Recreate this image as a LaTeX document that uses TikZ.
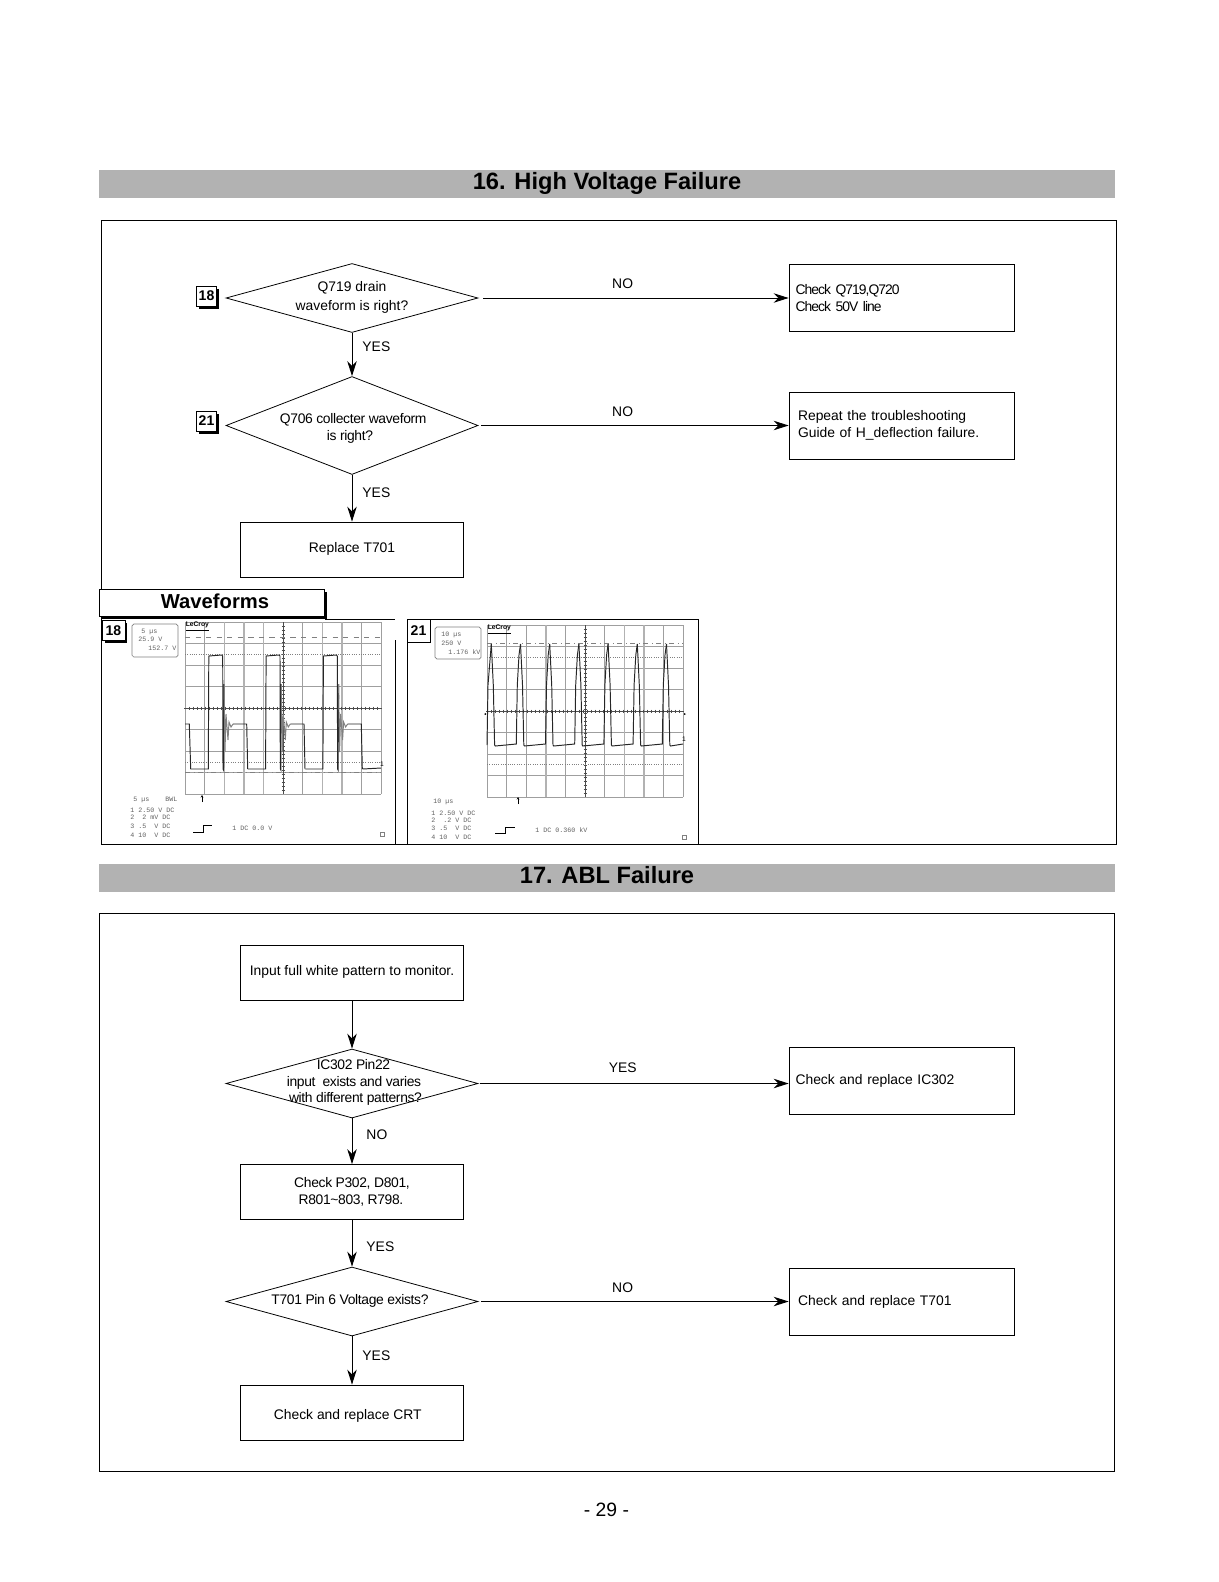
\documentclass[tikz,border=0pt]{standalone}
\usepackage{fontspec}
\setmainfont{Liberation Sans}
\setmonofont{Liberation Mono}
\usetikzlibrary{arrows.meta, positioning, shapes.geometric, shadows}

\newcommand{\dtext}[2][0cm]{\smash{\raisebox{#1}{\makebox[0pt]{\addfontfeature{LetterSpace=-2.5}\begin{tabular}{@{}c@{}}#2\end{tabular}}}}}
\newcommand{\btext}[2][0cm]{\smash{\raisebox{#1}{\makebox[0pt]{#2}}}}

\tikzset{
	decision/.style={diamond, draw, line width=0.45pt, inner sep=0pt, minimum width=5.04cm, minimum height=1.38cm},
	actbox/.style={rectangle, draw, line width=0.45pt, inner sep=0pt, minimum width=4.46cm, minimum height=1.1cm, align=center},
	checkbox/.style={rectangle, draw, line width=0.45pt, inner ysep=0pt, inner xsep=0.13cm, minimum height=1.34cm, text width=4.24cm, align=left},
	titlebar/.style={rectangle, fill=gray!60, inner sep=0pt, minimum width=20.32cm, minimum height=0.56cm, font=\fontsize{13.45}{16}\selectfont\bfseries},
	tagbox/.style={rectangle, draw=black, fill=white, line width=0.5pt, inner sep=0pt, minimum width=0.4cm, minimum height=0.4cm, font=\fontsize{8}{9}\selectfont\bfseries, drop shadow={shadow xshift=0.05cm, shadow yshift=-0.05cm, fill=black, opacity=1}},
	answer/.style={inner sep=0pt},
	flow/.style={-{Stealth[length=0.3cm, width=0.19cm]}, line width=0.55pt},
	gridline/.style={gray!75, line width=0.35pt},
	wavetrace/.style={black!85, line width=0.55pt},
	scopetext/.style={inner sep=0pt, anchor=west, text=gray!75!black, font=\ttfamily\fontsize{3.8}{4}\selectfont},
}

\begin{document}
\begin{tikzpicture}[x=0.02cm, y=-0.02cm, font=\fontsize{7.9}{9.3}\selectfont]
	\useasboundingbox (0,0) rectangle (1219,1582);

	% Section 16
	\node[titlebar] (title_hv) at (607,184) {\btext[-0.1cm]{16. High Voltage Failure}};
	\draw[line width=0.45pt] (101,220) rectangle (1116,844.5);

	\node[decision] (d_drain) at (352,298) {\dtext[-0.06cm]{\addfontfeature{LetterSpace=0}Q719 drain\\[1.3pt]\addfontfeature{LetterSpace=0}waveform is right?}};
	\node[decision, minimum height=1.96cm] (d_coll) at (352,425.5) {\dtext[-0.13cm]{\hspace*{0.05cm}Q706 collecter waveform\\[0.5pt]\hspace*{-0.08cm}is right?}};
	\node[actbox] (b_t701) at (352,549.5) {\btext[-0.06cm]{Replace T701}};
	\node[checkbox] (b_q719) at (901.5,298) {\addfontfeature{LetterSpace=-7}Check Q719,Q720\\Check 50V line};
	\node[checkbox, inner xsep=0.18cm, text width=4.14cm] (b_hdef) at (901.5,425.5) {Repeat the troubleshooting\\Guide of H\_deflection failure.};
	\node[tagbox] (tag_a) at (206.5,296) {18};
	\node[tagbox] (tag_b) at (206.5,421) {21};

	\draw[flow] (d_drain) -- (d_coll) node[answer, midway, right=0.2cm, yshift=0.15cm] {YES};
	\draw[flow] (d_coll) -- (b_t701) node[answer, midway, right=0.2cm, yshift=0.12cm] {YES};
	\draw[flow, shorten <=0.1cm] (d_drain.east) -- (b_q719.west) node[answer, pos=0.465, above=0.17cm] {NO};
	\draw[flow, shorten <=0.06cm] (d_coll.east) -- (b_hdef.west) node[answer, pos=0.465, above=0.17cm] {NO};

	% Waveforms
	\draw[line width=0.45pt] (325,619) -- (395,619) (395,640) -- (395,844.5);
	\draw[line width=0.45pt] (407,642) -- (407,844.5) (430,619) -- (698,619) -- (698,844.5);
	\node[tagbox, minimum width=4.5cm, minimum height=0.54cm, font=\fontsize{11.5}{13}\selectfont\bfseries] (wave_head) at (212,602.5) {\btext[-0.11cm]{\hspace*{0.12cm}Waveforms}};

	% Oscillogram 18
	\begin{scope}[shift={(185,622)}]
		\foreach \c in {0,...,10} \draw[gridline] (\c*19.6,0) -- (\c*19.6,172);
		\foreach \r in {0,...,8} \draw[gridline] (0,\r*21.5) -- (196,\r*21.5);
		\foreach \c in {2,3,4,7,8} \draw[gray!60, line width=0.8pt] (\c*19.6,0) -- (\c*19.6,172);
		\draw[black!70, line width=0.5pt] (-1,86) -- (197,86) (98,0) -- (98,172);
		\foreach \t in {4,8,...,192} \draw[black!70, line width=0.3pt] (\t,84.5) -- (\t,87.5);
		\foreach \t in {4,8,...,168} \draw[black!70, line width=0.3pt] (96.5,\t) -- (99.5,\t);
		\draw[gray, dashed, line width=0.3pt] (0,15) -- (196,15);
		\draw[gray, densely dotted, line width=0.3pt] (0,32) -- (196,32) (0,140) -- (196,140);
		\draw[gray, dash dot, line width=0.3pt] (0,150) -- (196,150);
		\draw[wavetrace] (0,102) -- (4.3,102) -- (5.7,147);
		\foreach \k in {0,1,2} {
			\begin{scope}[shift={(57.3*\k,0)}]
				\draw[wavetrace] (5.7,147) -- (23.3,147) -- (23.8,34) -- (36.7,33) -- (37.7,34) -- (38,147) -- (38.5,148) -- (39,62);
				\draw[wavetrace, gray] (39,62) -- (40,130) -- (41,92) -- (43,118) -- (44,100) -- (46,105) -- (48,102);
				\draw[wavetrace] (48,102) -- (61.7,102) -- (62.7,147);
			\end{scope}
		}
		\draw[wavetrace] (177.6,147) -- (196,146);
		\node[inner sep=0pt, anchor=west, font=\fontsize{3.8}{4}\selectfont\bfseries] (lecroy_a) at (0.5,5) {\underline{LeCroy}};
		\node[inner sep=0pt, font=\fontsize{3.8}{4}\selectfont] (mark_a) at (197,142) {1};
	\end{scope}
	\draw[line width=0.4pt, gray, rounded corners=1pt] (132,624) rectangle (178,657);
	\node[scopetext] (ra_1) at (141,632) {5 µs};
	\node[scopetext] (ra_2) at (138,639) {25.9 V};
	\node[scopetext] (ra_3) at (148,648) {152.7 V};
	\node[scopetext] (la_0) at (133,800) {5 µs~~~~BWL};
	\node[scopetext] (la_1) at (130,810) {1 2.50 V DC};
	\node[scopetext] (la_2) at (130,817) {2 ~2 mV DC};
	\node[scopetext] (la_3) at (130,826) {3 .5 ~V DC};
	\node[scopetext] (la_4) at (130,835) {4 10 ~V DC};
	\node[scopetext] (la_5) at (232,828) {1 DC 0.0 V};
	\draw[line width=0.4pt] (193,832) -- (203,832) -- (203,825) -- (212,825);
	\draw[-{Stealth[length=0.05cm, width=0.05cm]}, line width=0.5pt] (202,802) -- (202,795);
	\draw[line width=0.3pt, gray] (380,832) rectangle (384,836);
	\node[tagbox, minimum width=0.46cm] (tag_c) at (113.5,630.5) {18};

	% Oscillogram 21
	\begin{scope}[shift={(487,625)}]
		\foreach \c in {0,...,10} \draw[gridline] (\c*19.6,0) -- (\c*19.6,172);
		\foreach \r in {0,...,8} \draw[gridline] (0,\r*21.5) -- (196,\r*21.5);
		\foreach \c in {3,7,8} \draw[gray!60, line width=0.8pt] (\c*19.6,0) -- (\c*19.6,172);
		\draw[black!70, line width=0.5pt] (-1,86) -- (197,86) (98,0) -- (98,172);
		\foreach \t in {4,8,...,192} \draw[black!70, line width=0.3pt] (\t,84.5) -- (\t,87.5);
		\foreach \t in {4,8,...,168} \draw[black!70, line width=0.3pt] (96.5,\t) -- (99.5,\t);
		\draw[gray, dash dot, line width=0.3pt] (0,18) -- (196,18);
		\draw[gray, densely dotted, line width=0.3pt] (0,32) -- (196,32) (0,139) -- (196,139);
		\draw[wavetrace] (0,120) -- (1,60) -- (4.3,19);
		\foreach \k in {0,...,5} {
			\begin{scope}[shift={(29.2*\k,0)}]
				\draw[wavetrace] (4.3,19) -- (6.3,60) -- (7.6,120) -- (8.3,121) -- (29.3,119) -- (30.3,60) -- (32,30) -- (33.5,19);
			\end{scope}
		}
		\draw[wavetrace] (179.5,19) -- (181.5,60) -- (182.8,120) -- (183.5,121) -- (196,119);
		\node[inner sep=0pt, anchor=west, font=\fontsize{3.8}{4}\selectfont\bfseries] (lecroy_b) at (0.5,5) {\underline{LeCroy}};
		\node[inner sep=0pt, font=\fontsize{3.8}{4}\selectfont] (mark_b) at (197,114) {1};
		\fill (-3,89) -- (-1,88) -- (-1,90) -- cycle;
		\fill (199,89) -- (197,88) -- (197,90) -- cycle;
	\end{scope}
	\draw[line width=0.4pt, gray, rounded corners=1pt] (435,627) rectangle (481,659);
	\node[scopetext] (rb_1) at (441,635) {10 µs};
	\node[scopetext] (rb_2) at (441,643) {250 V};
	\node[scopetext] (rb_3) at (448,652) {1.176 kV};
	\node[scopetext] (lb_0) at (433,802) {10 µs};
	\node[scopetext] (lb_1) at (431,813) {1 2.50 V DC};
	\node[scopetext] (lb_2) at (431,820) {2 ~.2 V DC};
	\node[scopetext] (lb_3) at (431,828) {3 .5 ~V DC};
	\node[scopetext] (lb_4) at (431,837) {4 10 ~V DC};
	\node[scopetext] (lb_5) at (535,830) {1 DC 0.360 kV};
	\draw[line width=0.4pt] (495,833) -- (505,833) -- (505,827) -- (515,827);
	\draw[-{Stealth[length=0.05cm, width=0.05cm]}, line width=0.5pt] (518,804) -- (518,797);
	\draw[line width=0.3pt, gray] (682,835) rectangle (686,839);
	\node[rectangle, draw, fill=white, line width=0.5pt, inner sep=0pt, minimum width=0.46cm, minimum height=0.46cm, font=\fontsize{8}{9}\selectfont\bfseries] (tag_d) at (418.5,630.5) {21};

	% Section 17
	\node[titlebar] (title_abl) at (607,878) {\btext[-0.1cm]{17. ABL Failure}};
	\draw[line width=0.45pt] (99,913) rectangle (1114.5,1471);

	\node[actbox] (b_input) at (352,972.5) {\btext[-0.05cm]{Input full white pattern to monitor.}};
	\node[decision] (d_ic) at (352,1083.5) {\dtext[-0.06cm]{\hspace*{0.06cm}IC302 Pin22\\\hspace*{0.08cm}input~ exists and varies\\\hspace*{0.14cm}with different patterns?}};
	\node[actbox] (b_p302) at (352,1192) {\dtext[-0.08cm]{Check P302, D801,\\[0.5pt]\hspace*{-0.04cm}R801\textasciitilde803, R798.}};
	\node[decision] (d_pin6) at (352,1301.5) {\dtext[-0.06cm]{\hspace*{-0.08cm}T701 Pin 6 Voltage exists?}};
	\node[actbox] (b_crt) at (352,1412.5) {\btext[-0.14cm]{\hspace*{-0.17cm}Check and replace CRT}};
	\node[checkbox] (b_ic) at (901.5,1080.5) {Check and replace IC302};
	\node[checkbox, inner xsep=0.18cm, text width=4.14cm] (b_crt_t) at (901.5,1301.5) {Check and replace T701};

	\draw[flow] (b_input) -- (d_ic);
	\draw[flow] (d_ic) -- (b_p302) node[answer, midway, right=0.28cm, yshift=0.14cm] {NO};
	\draw[flow] (b_p302) -- (d_pin6) node[answer, midway, right=0.28cm, yshift=-0.06cm] {YES};
	\draw[flow] (d_pin6) -- (b_crt) node[answer, midway, right=0.2cm, yshift=0.1cm] {YES};
	\draw[flow, shorten <=0.04cm] (d_ic.east) -- (d_ic.east -| b_ic.west) node[answer, pos=0.465, above=0.21cm] {YES};
	\draw[flow, shorten <=0.06cm] (d_pin6.east) -- (b_crt_t.west) node[answer, pos=0.465, above=0.17cm] {NO};

	\node[inner sep=0pt, font=\fontsize{11}{13}\selectfont] (page_no) at (606.5,1510) {- 29 -};
\end{tikzpicture}
\end{document}
